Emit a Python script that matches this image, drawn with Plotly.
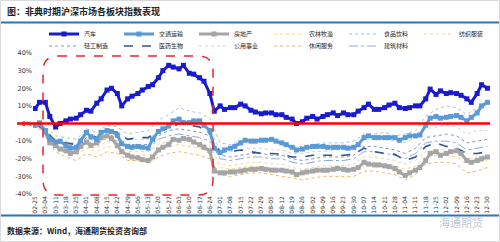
import plotly.graph_objects as go
import pandas as pd

YEAR = "2003"
TICK_LABELS = ["02-25", "03-04", "03-11", "03-18", "03-25", "04-01", "04-08", "04-15", "04-22", "04-29",
               "05-06", "05-13", "05-20", "05-27", "06-03", "06-10", "06-17", "06-24", "07-01", "07-08",
               "07-15", "07-22", "07-29", "08-05", "08-12", "08-19", "08-26", "09-02", "09-09", "09-16",
               "09-23", "09-30", "10-07", "10-14", "10-21", "10-28", "11-04", "11-11", "11-18", "11-25",
               "12-02", "12-09", "12-16", "12-23", "12-30"]
Y_TICKS = [40, 30, 20, 10, 0, -10, -20, -30, -40]

# main series: twice-weekly observations (Tue / Fri), % change
AUTO = [8.5, 12, 12, 4, -2, 0, 1.5, 2.5, 3, 5, 7.5, 7, 11.5, 14, 19, 20, 17, 10, 14, 15.5,
        17, 19, 21, 22, 26, 30, 33, 32, 31, 33, 28.5, 28, 26, 24, 17, 7, 10, 8, 9, 9,
        11, 10, 7.5, 6.5, 5.5, 6, 6, 5, 5, 3.5, 2.5, 0, 1, 3, 4, 2.5, 4, 5, 6, 4.5,
        6, 5, 5, 7, 9, 11, 8, 8, 9, 10.5, 11.5, 9, 8.5, 9, 10, 10, 14, 19.5, 16.5, 18.5,
        17, 17.5, 17, 16, 14, 12, 17, 22, 20]
TRANSPORT = [-1, 0, -4, -9, -10.5, -10, -12.5, -14, -13.5, -10, -5, -7.5, -9, -5, -4, -4.5, -6.5, -11.5, -13, -13.5,
             -13, -13.5, -14, -9, -4.5, -3, -1.5, 1.5, 2.5, 0.5, 0.5, 1.5, 1.5, -1, -4, -14, -16.5, -15, -14, -13,
             -11, -9.5, -10, -10, -9.5, -9.5, -9, -10, -11, -12, -13.5, -15, -14.5, -13.5, -13, -13, -13, -13.5, -13.5, -13.5,
             -13.5, -14, -13.5, -12, -8, -7, -8, -8, -8, -8, -8, -9.5, -8, -7, -7, -6.5, -1, 3, 4, 3,
             3.5, 4, 4.5, 3.5, 1.5, 3.5, 6, 10, 12]
REALTY = [-1, 0.5, -5, -11, -12.5, -14.5, -15.5, -17, -16, -13, -10.5, -12.5, -11, -8, -7, -8.5, -12.5, -16, -18, -19,
          -19.5, -20.5, -21, -19, -15, -13.5, -12, -9, -9.5, -8.5, -9, -10.5, -12, -13.5, -15.5, -27, -28, -28, -27.5, -27.5,
          -27, -26.5, -26, -26, -25.5, -26, -26.5, -26.5, -26.5, -27, -27.5, -29, -28, -27.5, -27, -26.5, -26.5, -26.5, -26, -25.5,
          -26, -26.5, -26, -25, -22, -23, -23.5, -23.5, -24, -24.5, -25.5, -27.5, -29.5, -28, -26.5, -25, -21, -17, -16, -18,
          -17, -16, -15.5, -17, -21, -22, -21, -20, -19]

# weekly observations (Tuesdays)
PHARMA = [0, -4, -10, -11, -12, -5, -8, -4, -5, -9, -8, -8, -4, -3, 0, -1, -2, -6, -16, -16,
          -15, -16, -17, -17, -17.5, -19, -19, -18, -18, -18, -18, -17.5, -14, -16, -17, -17.5, -21, -19, -13, -11,
          -13, -14, -17, -17, -16]
FOOD = [0, -2, -7, -8, -9, -3, -5, -1, -2, -6, -5, -4, 2, 5, 9, 7, 6, 3, -11, -12,
        -10, -9, -9, -10, -11, -13, -13, -12, -11, -11, -11, -10, -6, -6, -5, -7, -6, -4, 4, 8,
        10, 9, 5, 9, 11]
UTILITY = [0, -3, -9, -10, -11, -6, -8, -4, -5, -9, -9, -9, -4, -1, 1, 0, -1, -3, -15, -16,
           -15, -14, -14, -15, -15, -17, -17, -16, -16, -15, -15, -15, -9, -9, -9, -10, -11, -8, -3, -2,
           -1, -2, -6, -4, -4]
LIGHT_IND = [0, -4, -11, -12, -13, -8, -10, -6, -8, -12, -12, -12, -7, -4, -3, -4, -5, -7, -18, -19,
             -18, -17, -17, -18, -18, -20, -21, -20, -19, -19, -19, -18, -13, -13, -14, -15, -17, -14, -8, -7,
             -6, -7, -11, -10, -9]
BUILDING = [0, -5, -12, -14, -15, -10, -12, -8, -10, -14, -14, -14, -9, -7, -6, -7, -8, -10, -20, -21,
            -20, -19, -19, -20, -20, -22, -23, -22, -21, -21, -21, -20, -16, -16, -17, -18, -20, -17, -11, -10,
            -10, -11, -15, -14, -13]
TEXTILE = [0, -5, -13, -15, -17, -12, -14, -10, -12, -16, -16, -16, -12, -10, -9, -10, -11, -13, -23, -24,
           -23, -22, -22, -23, -23, -25, -26, -25, -24, -24, -24, -23, -19, -19, -20, -21, -23, -21, -16, -15,
           -15, -16, -20, -19, -18]
AGRI = [0, -6, -14, -16, -18, -14, -16, -13, -14, -18, -18, -18, -15, -13, -12, -13, -14, -16, -25, -26,
        -25, -24, -25, -25, -26, -27, -28, -27, -27, -26, -26, -26, -22, -22, -23, -24, -26, -24, -19, -18,
        -18, -19, -23, -22, -21]
LEISURE = [0, -7, -16, -19, -21, -17, -19, -16, -17, -21, -21, -22, -19, -17, -16, -17, -18, -20, -29, -30,
           -29, -28, -28, -29, -30, -31, -32, -31, -30, -30, -30, -30, -27, -27, -28, -29, -32, -29, -23, -22,
           -22, -23, -28, -27, -25]

tue = pd.to_datetime([YEAR + "-" + t for t in TICK_LABELS])
fri = tue[:-1] + pd.Timedelta(days=3)
semi = sorted(list(tue) + list(fri))

FONT = "Noto Sans CJK SC"
fig = go.Figure()

minor = [
    ("农林牧渔", AGRI, "#F5D77A", "dot", 4, "legend"),
    ("食品饮料", FOOD, "#A9C1DE", "dot", 5, "legend"),
    ("纺织服装", TEXTILE, "#E6D7AE", "dot", 6, "legend"),
    ("轻工制造", LIGHT_IND, "#8497B0", "dot", 1, "legend2"),
    ("公用事业", UTILITY, "#C9D3DF", "dot", 3, "legend2"),
    ("休闲服务", LEISURE, "#E8B860", "dot", 4, "legend2"),
    ("建筑材料", BUILDING, "#8FAADC", "dashdot", 5, "legend2"),
]
for name, vals, col, dash, rank, lg in minor:
    fig.add_trace(go.Scatter(x=tue, y=vals, name=name, mode="lines",
                             line=dict(color=col, width=1, dash=dash), legendrank=rank, legend=lg))

fig.add_trace(go.Scatter(x=tue, y=PHARMA, name="医药生物", mode="lines",
                         line=dict(color="#2F5597", width=1.6, dash="dash"), legendrank=2, legend="legend2"))
fig.add_trace(go.Scatter(x=semi, y=REALTY, name="房地产", mode="lines+markers",
                         line=dict(color="#A5A5A5", width=3), marker=dict(symbol="square", size=5),
                         legendrank=3, legend="legend"))
fig.add_trace(go.Scatter(x=semi, y=TRANSPORT, name="交通运输", mode="lines+markers",
                         line=dict(color="#5B9BD5", width=3), marker=dict(symbol="square", size=5),
                         legendrank=2, legend="legend"))
fig.add_trace(go.Scatter(x=semi, y=AUTO, name="汽车", mode="lines+markers",
                         line=dict(color="#1A1ACF", width=3), marker=dict(symbol="square", size=5),
                         legendrank=1, legend="legend"))

L, R, T, B = 33, 10, 53, 48
W, H = 500, 242
pw, ph = W - L - R, H - T - B

def px_x(p):
    return (p - L) / pw

def px_y(p):
    return (H - B - p) / ph

# rounded dashed box (pixel positions converted to paper)
x0, x1, y0, y1 = px_x(43), px_x(213), px_y(195), px_y(56)
rx, ry = 15 / pw, 15 / ph
path = (f"M {x0+rx},{y1} L {x1-rx},{y1} Q {x1},{y1} {x1},{y1-ry} L {x1},{y0+ry} "
        f"Q {x1},{y0} {x1-rx},{y0} L {x0+rx},{y0} Q {x0},{y0} {x0},{y0+ry} L {x0},{y1-ry} "
        f"Q {x0},{y1} {x0+rx},{y1} Z")

legend_common = dict(orientation="h", xanchor="left", yanchor="middle",
                     entrywidth=30, entrywidthmode="pixels", itemwidth=30,
                     font=dict(size=6, family=FONT, color="#222"), bgcolor="rgba(0,0,0,0)",
                     tracegroupgap=0)

fig.update_layout(
    width=W, height=H, margin=dict(l=L, r=R, t=T, b=B),
    paper_bgcolor="white", plot_bgcolor="white",
    font=dict(family=FONT, size=7, color="#222"),
    showlegend=True,
    legend=dict(x=px_x(44), y=px_y(34), **legend_common),
    legend2=dict(x=px_x(44), y=px_y(46), **legend_common),
    xaxis=dict(type="date", range=[YEAR + "-02-23 14:00", YEAR + "-12-31 18:00"],
               tickvals=list(tue), ticktext=TICK_LABELS, tickangle=-90,
               tickfont=dict(size=6, family="DejaVu Sans", color="#333"),
               showgrid=False, showline=False, zeroline=False, ticks=""),
    yaxis=dict(range=[-40, 40], tickvals=Y_TICKS, ticktext=[f"{v}%" for v in Y_TICKS],
               tickfont=dict(size=6.5, family="DejaVu Sans", color="#333"),
               showgrid=False, zeroline=False, showline=False, ticks=""),
    shapes=[
        dict(type="line", xref="paper", yref="y", x0=px_x(17), x1=1, y0=0, y1=0,
             line=dict(color="#FF0000", width=2.5), layer="above"),
        dict(type="path", xref="paper", yref="paper", path=path,
             line=dict(color="#E8262B", width=1.5, dash="dash"), layer="above"),
        dict(type="line", xref="paper", yref="paper", x0=px_x(0), x1=px_x(W), y0=px_y(22.5), y1=px_y(22.5),
             line=dict(color="#2E75B6", width=2)),
        dict(type="line", xref="paper", yref="paper", x0=px_x(0), x1=px_x(W), y0=px_y(215.5), y1=px_y(215.5),
             line=dict(color="#2E75B6", width=2)),
        dict(type="rect", xref="paper", yref="paper", x0=px_x(0.5), x1=px_x(W - 0.5), y0=px_y(H - 0.5), y1=px_y(0.5),
             line=dict(color="#D9D9D9", width=1)),
    ],
    annotations=[
        dict(text="<b>图：非典时期沪深市场各板块指数表现</b>", xref="paper", yref="paper",
             x=px_x(5), y=px_y(11), xanchor="left", yanchor="middle", showarrow=False,
             font=dict(size=9, family=FONT, color="#222")),
        dict(text="<b>数据来源：Wind，海通期货投资咨询部</b>", xref="paper", yref="paper",
             x=px_x(5), y=px_y(230), xanchor="left", yanchor="middle", showarrow=False,
             font=dict(size=8, family=FONT, color="#222")),
        dict(text="海通期货", xref="paper", yref="paper",
             x=px_x(485), y=px_y(222), xanchor="right", yanchor="middle", showarrow=False,
             font=dict(size=11, family=FONT, color="rgba(150,160,175,0.6)")),
    ],
)

fig.write_html("out.html")
